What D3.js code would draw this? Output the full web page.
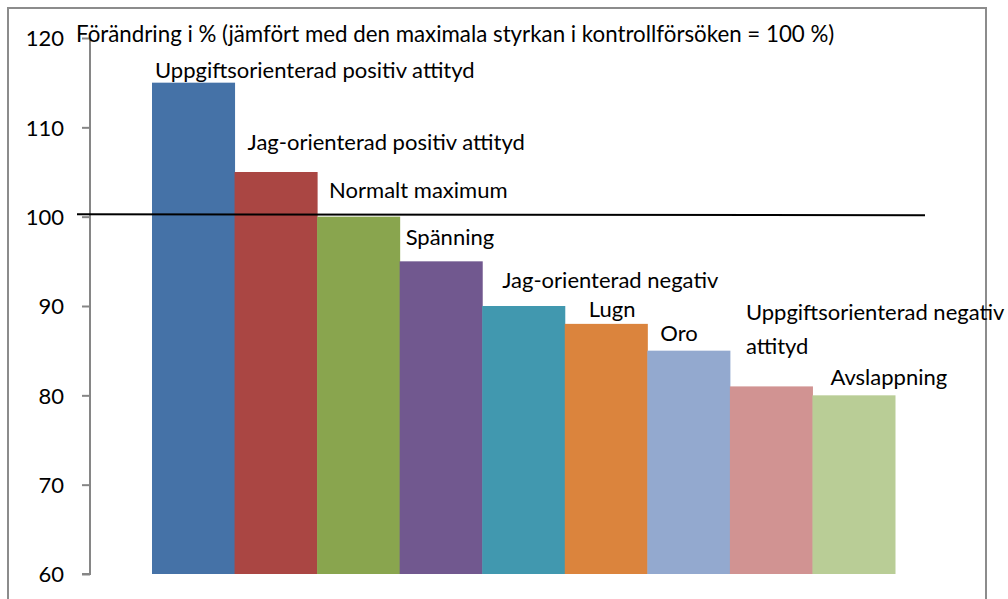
<!DOCTYPE html>
<html>
<head>
<meta charset="utf-8">
<script src="https://cdn.jsdelivr.net/npm/d3@7"></script>
<style>
  body { margin: 0; background: #fff; }
  text { font-family: Lato, "Noto Sans", sans-serif; fill: #000; }
</style>
</head>
<body>
<div id="chart"></div>
<script>
// data
const categories = [
  "Uppgiftsorienterad positiv attityd",
  "Jag-orienterad positiv attityd",
  "Normalt maximum",
  "Spänning",
  "Jag-orienterad negativ",
  "Lugn",
  "Oro",
  "Uppgiftsorienterad negativ attityd",
  "Avslappning"
]
const values = [115, 105, 100, 95, 90, 88, 85, 81, 80]
const labelLines = [
  ["Uppgiftsorienterad positiv attityd"],
  ["Jag-orienterad positiv attityd"],
  ["Normalt maximum"],
  ["Spänning"],
  ["Jag-orienterad negativ"],
  ["Lugn"],
  ["Oro"],
  ["Uppgiftsorienterad negativ", "attityd"],
  ["Avslappning"]
]
const yTicks = [60, 70, 80, 90, 100, 110, 120]
const referenceValue = 100
const title = "Förändring i % (jämfört med den maximala styrkan i kontrollförsöken = 100 %)"

// label nudges (px) relative to each bar's top-left corner, as placed in the original
const labelNudge = [[3, -5], [13, -22], [12, -19], [6, -16], [20, -18], [24, -7], [13, -10], [16, -66], [18, -10]]
const colors = ["#4572a7", "#aa4643", "#89a54e", "#71588f", "#4198af", "#db843d", "#93a9cf", "#d19392", "#b9cd96"]

const width = 1008, height = 599

const svg = d3.select("#chart").append("svg")
    .attr("width", width)
    .attr("height", height)

// outer frame
svg.append("rect")
    .attr("x", 8).attr("y", 8)
    .attr("width", 978).attr("height", 620)
    .attr("fill", "none")
    .attr("stroke", "#8c8c8c")
    .attr("stroke-width", 2)

const x = d3.scaleBand().domain(categories).range([152, 895]).padding(0)
const y = d3.scaleLinear().domain([60, 120]).range([574, 38])

svg.selectAll("rect.bar").data(values)
    .join("rect")
    .attr("class", "bar")
    .attr("x", (d, i) => x(categories[i]))
    .attr("y", d => y(d))
    .attr("width", x.bandwidth() + 0.5)
    .attr("height", d => y(60) - y(d))
    .attr("fill", (d, i) => colors[i])

// y axis
const yAxis = d3.axisLeft(y).tickValues(yTicks).tickSize(8).tickPadding(18)
const ax = svg.append("g")
    .attr("transform", "translate(90,0)")
    .call(yAxis)
ax.select(".domain").attr("stroke", "#868686").attr("stroke-width", 2)
    .attr("d", `M-8,${y(60)}H0V${y(120)}`)
ax.selectAll(".tick line").attr("stroke", "#868686").attr("stroke-width", 2)
ax.selectAll(".tick text")
    .style("font-size", "22px")
    .attr("dy", "0.35em")
    .attr("fill", "#000")

// reference line at 100
svg.append("line")
    .attr("x1", 77).attr("x2", 925)
    .attr("y1", y(referenceValue) - 2.5).attr("y2", y(referenceValue) - 1.5)
    .attr("stroke", "#000")
    .attr("stroke-width", 2)

svg.append("text")
    .attr("x", 76).attr("y", 42)
    .style("font-size", "22.3px")
    .text(title)

// bar labels
const labels = svg.selectAll("text.lbl").data(values)
    .join("text")
    .attr("class", "lbl")
    .attr("x", (d, i) => x(categories[i]) + labelNudge[i][0])
    .attr("y", (d, i) => y(d) + labelNudge[i][1])
    .style("font-size", "22px")

labels.selectAll("tspan").data((d, i) => labelLines[i].map(t => ({t, i})))
    .join("tspan")
    .attr("x", d => x(categories[d.i]) + labelNudge[d.i][0])
    .attr("dy", (d, j) => j === 0 ? 0 : 34)
    .text(d => d.t)
</script>
</body>
</html>
